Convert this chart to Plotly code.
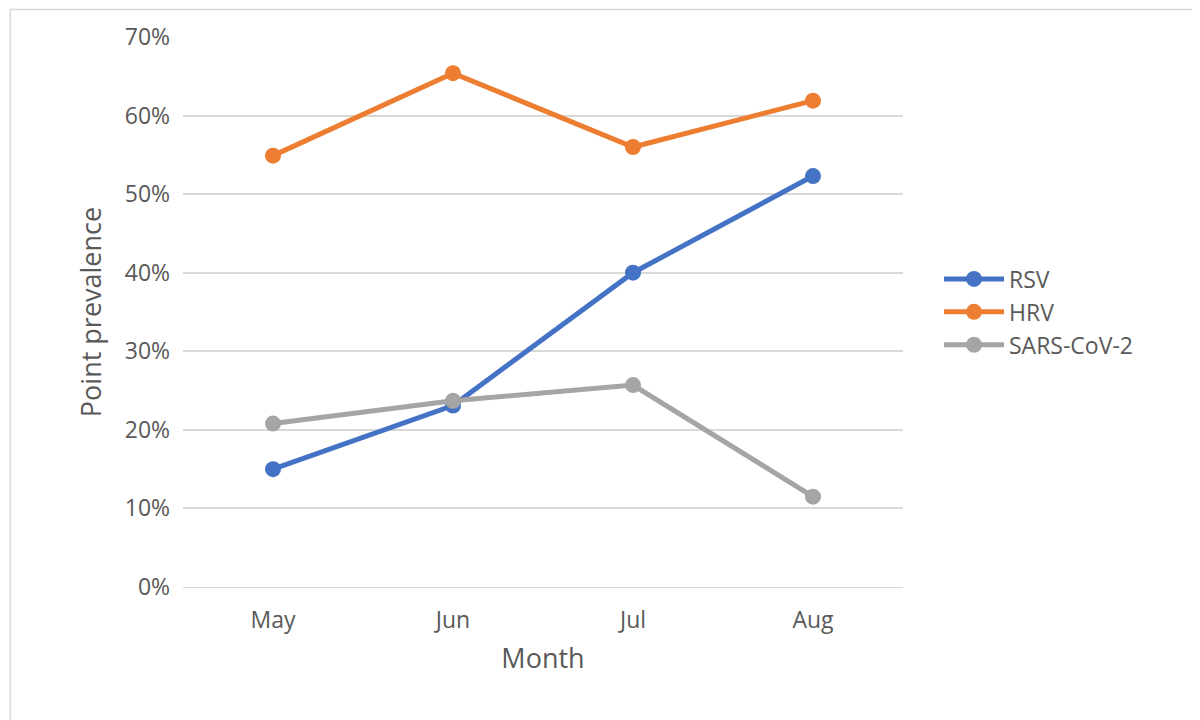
import plotly.graph_objects as go

months = ['May', 'Jun', 'Jul', 'Aug']
rsv = [0.150, 0.231, 0.400, 0.523]
hrv = [0.549, 0.654, 0.560, 0.619]
sars = [0.208, 0.237, 0.257, 0.115]

series = [('RSV', rsv, '#4472C4'), ('HRV', hrv, '#ED7D31'), ('SARS-CoV-2', sars, '#A5A5A5')]

fig = go.Figure()
for name, vals, col in series:
    fig.add_trace(go.Scatter(
        x=months, y=vals, name=name, mode='lines+markers',
        line=dict(color=col, width=5), marker=dict(color=col, size=16),
    ))

fig.update_layout(
    width=1200, height=720,
    paper_bgcolor='white', plot_bgcolor='white',
    margin=dict(l=175, r=305, t=29, b=141),
    font=dict(family='Open Sans, DejaVu Sans', size=23, color='#595959'),
    legend=dict(x=1.05, y=0.5, yanchor='middle', font=dict(size=23),
                itemwidth=60, tracegroupgap=10),
    shapes=[dict(type='rect', xref='paper', yref='paper', x0=-0.24, x1=1.41, y0=-0.25, y1=1.05,
                 line=dict(color='#D9D9D9', width=1.5))],
)
fig.update_xaxes(title_text='Month', title_font=dict(size=27), showgrid=False,
                 range=[-0.5, 3.5], showline=True, linecolor='#D9D9D9',
                 ticks='outside', tickcolor='white', ticklen=12)
fig.update_yaxes(title_text='Point prevalence', title_font=dict(size=27), range=[0, 0.7],
                 dtick=0.1, tickformat='.0%', gridcolor='#D9D9D9', gridwidth=1.5,
                 zeroline=False, ticksuffix='  ')

fig.write_html('out.html')
